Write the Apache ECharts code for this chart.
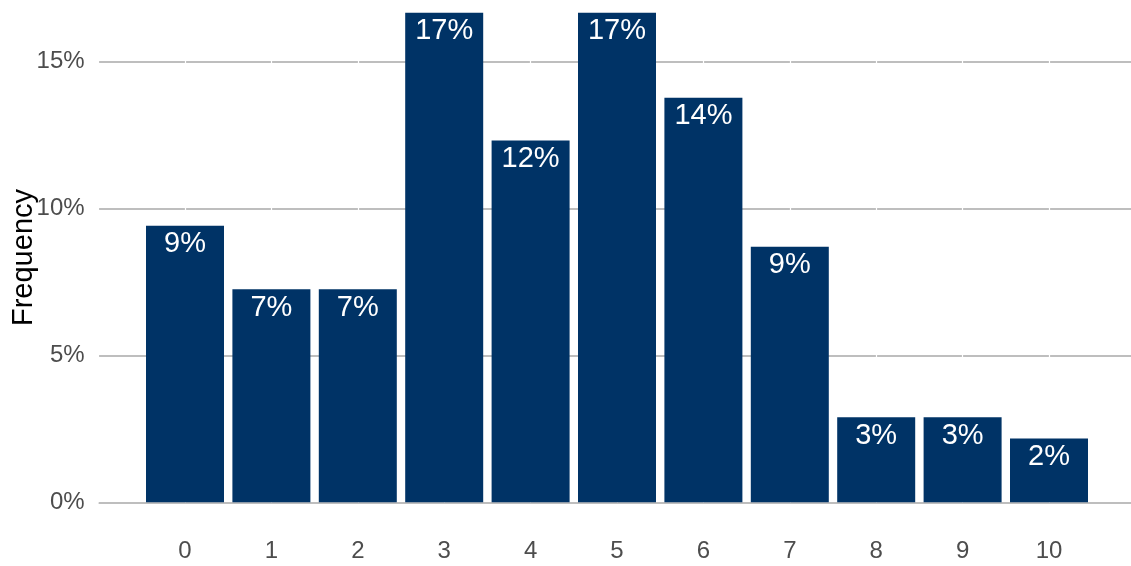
<!DOCTYPE html>
<html>
<head>
<meta charset="utf-8">
<script src="https://cdn.jsdelivr.net/npm/echarts@6/dist/echarts.min.js"></script>
<style>
  html, body { margin: 0; padding: 0; background: #ffffff; }
  #chart { width: 1131px; height: 566px; }
</style>
</head>
<body>
<div id="chart"></div>
<script>
// Score categories on the x axis
const categories = [0, 1, 2, 3, 4, 5, 6, 7, 8, 9, 10];
// Share of responses per score, in percent
const frequencyPct = [9.42, 7.25, 7.25, 16.67, 12.32, 16.67, 13.77, 8.70, 2.90, 2.90, 2.17];
// Y axis tick step, in percent
const yTickStep = 5;

const FONT = '"Liberation Sans", Arial, sans-serif';
const BAR_COLOR = '#003366';

const chart = echarts.init(document.getElementById('chart'), null, { renderer: 'canvas' });

chart.setOption({
  animation: false,
  backgroundColor: '#ffffff',
  grid: {
    left: 98.6, top: 12.7, width: 1036.8, bottom: 63.7,
    containLabel: false,
    outerBoundsMode: 'none'
  },
  xAxis: {
    type: 'value',
    min: -1,
    max: 11,
    interval: 1,
    z: 1,
    axisLine: { show: false },
    axisTick: { show: false },
    axisLabel: {
      color: '#4d4d4d',
      fontFamily: FONT,
      fontSize: 24,
      margin: 37,
      showMinLabel: false,
      showMaxLabel: false,
      formatter: v => (categories.indexOf(v) >= 0 ? String(v) : '')
    },
    splitLine: { show: true, lineStyle: { color: '#ffffff', width: 1.2 } }
  },
  yAxis: {
    type: 'value',
    min: 0,
    max: 'dataMax',
    interval: yTickStep,
    z: 0,
    name: 'Frequency',
    nameLocation: 'middle',
    nameRotate: 90,
    nameGap: 60,
    nameMoveOverlap: false,
    nameTextStyle: { color: '#000000', fontFamily: FONT, fontSize: 29 },
    axisLine: { show: false },
    axisTick: { show: false },
    axisLabel: {
      color: '#4d4d4d',
      fontFamily: FONT,
      fontSize: 24,
      margin: 14,
      showMaxLabel: false,
      formatter: v => (v % yTickStep === 0 ? v + '%' : '')
    },
    splitLine: { show: true, showMaxLine: false, lineStyle: { color: '#bebebe', width: 2 } }
  },
  series: [{
    type: 'bar',
    z: 2,
    barWidth: 78,
    data: categories.map((c, i) => [c, frequencyPct[i]]),
    itemStyle: { color: BAR_COLOR },
    label: {
      show: true,
      position: 'insideTop',
      distance: 4,
      color: '#ffffff',
      fontFamily: FONT,
      fontSize: 29,
      formatter: p => Math.round(p.value[1]) + '%'
    }
  }]
});
</script>
</body>
</html>
